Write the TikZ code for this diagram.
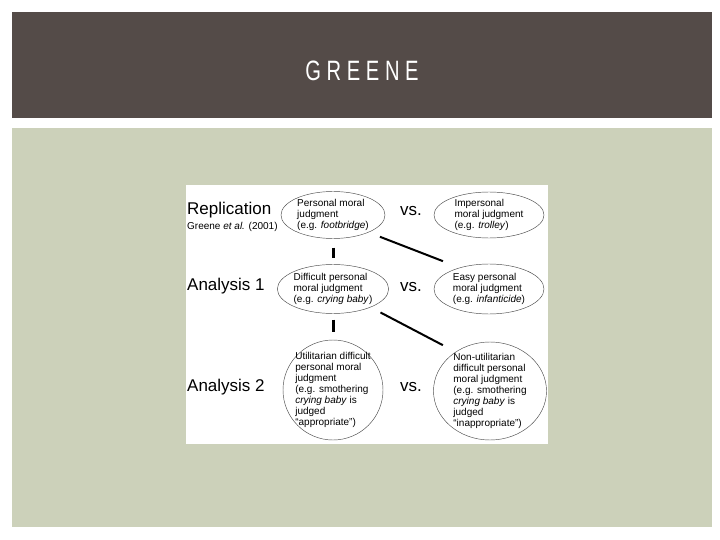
\documentclass[tikz,border=0pt]{standalone}
\usepackage{fontspec}
\setmainfont{Liberation Sans}
\usetikzlibrary{shapes.geometric,positioning}
\definecolor{header}{HTML}{544B48}
\definecolor{panel}{HTML}{CCD1BA}
\tikzset{
    judgment/.style = {
        draw = black!70,
        ellipse,
        line width = 0.45pt,
        inner sep = 0pt,
        align = left,
        font = \fontsize{10}{11}\selectfont,
        },
    row label/.style = {
        anchor = west,
        inner sep = 0pt,
        font = \fontsize{17}{17}\selectfont,
        },
    cite/.style = {
        inner sep = 0pt,
        font = \fontsize{10}{10}\selectfont,
        },
    versus/.style = {
        inner sep = 0pt,
        font = \fontsize{17}{17}\selectfont,
        },
    bar/.style = {
        draw = black,
        line width = 3pt,
        },
    link/.style = {
        draw = black,
        line width = 2pt,
        },
}

\begin{document}
\begin{tikzpicture}[x=1pt,y=-1pt]
    \useasboundingbox (0,0) rectangle (720,540);
    \fill[white] (0,0) rectangle (720,540);
    \fill[header] (12,12) rectangle (712,118);
    \fill[panel] (12,128) rectangle (712,527);
    \fill[white] (186,185) rectangle (548,444);

    \node[text=white, xscale=0.72, font=\fontsize{28}{28}\selectfont\addfontfeatures{LetterSpace=28}] (Title) at (362,71) {GREENE};

    \node[judgment, minimum width=104, minimum height=47] (L1) at (333,215) {Personal moral\\judgment\\(e.g. \textit{footbridge})};
    \node[judgment, minimum width=110, minimum height=46] (R1) at (489,215) {Impersonal\\moral judgment\\(e.g. \textit{trolley})};
    \node[judgment, minimum width=104, minimum height=49] (L2) at (333,289) {Difficult personal\\moral judgment\\(e.g. \textit{crying baby})};
    \node[judgment, minimum width=110, minimum height=50] (R2) at (489,289) {Easy personal\\moral judgment\\(e.g. \textit{infanticide})};
    \node[judgment, inner sep=-9pt, minimum width=100, minimum height=100] (L3) at (333,390) {Utilitarian difficult\\personal moral\\judgment\\(e.g. smothering\\\textit{crying baby} is\\judged\\“appropriate”)};
    \node[judgment, inner sep=-9pt, minimum width=113, minimum height=98] (R3) at (490,391) {Non-utilitarian\\difficult personal\\moral judgment\\(e.g. smothering\\\textit{crying baby} is\\judged\\“inappropriate”)};

    \node[row label] (Rep) at (187,210) {Replication};
    \node[cite, below=4pt of Rep.south west, anchor=north west] (Cite) {Greene \textit{et al.} (2001)};
    \node[row label] (An1) at (187,286) {Analysis 1};
    \node[row label] (An2) at (187,387) {Analysis 2};

    \node[versus] (V1) at (411,211) {vs.};
    \node[versus] (V2) at (411,287) {vs.};
    \node[versus] (V3) at (411,387) {vs.};

    \draw[bar, shorten <=9pt, shorten >=6pt] (L1) -- (L2);
    \draw[bar, shorten <=6pt, shorten >=8pt] (L2) -- (L3);
    \draw[link] ([shift={(10,5)}]L1.south east) -- ([shift={(-7,-10)}]R2.north west);
    \draw[link] ([shift={(8,6)}]L2.south east) -- ([shift={(-7,-11)}]R3.north west);
\end{tikzpicture}
\end{document}
